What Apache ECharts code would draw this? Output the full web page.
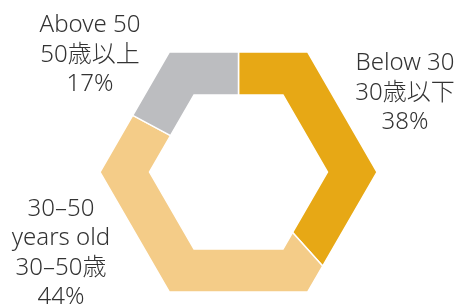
<!DOCTYPE html>
<html>
<head>
<meta charset="utf-8">
<script src="https://cdn.jsdelivr.net/npm/echarts@6/dist/echarts.min.js"></script>
<style>
  html, body { margin: 0; padding: 0; background: #fff; }
  #chart { width: 464px; height: 307px; }
</style>
</head>
<body>
<div id="chart"></div>
<script>
  // age groups, clockwise from the top
  const groupsEn = ['Below 30', '30–50\nyears old', 'Above 50']
  const groupsJa = ['30歳以下', '30–50歳', '50歳以上']
  const shares = [38, 44, 17]
  const colors = ['#E7A815', '#F4CC88', '#BCBDC0']

  const cx = 238.5, cy = 172
  const outerR = 138.5, innerR = 89
  const toRad = Math.PI / 180

  // point on a flat-topped hexagon, phi in degrees clockwise from up
  function hexPoint(phi, rad) {
    const n = Math.round(phi / 60) * 60
    const d = rad * Math.cos(30 * toRad) / Math.cos((phi - n) * toRad)
    return [cx + d * Math.sin(phi * toRad), cy - d * Math.cos(phi * toRad)]
  }

  const total = shares.reduce((a, b) => a + b, 0)

  function renderItem(params, api) {
    const i = params.dataIndex
    let before = 0
    for (let k = 0; k < i; k++) before += shares[k]
    const a0 = before / total * 360
    const a1 = (before + api.value(0)) / total * 360
    const angles = [a0]
    for (let v = 30; v < 360; v += 60) {
      if (v > a0 && v < a1) angles.push(v)
    }
    angles.push(a1)
    const pts = angles.map(a => hexPoint(a, outerR))
    for (let k = angles.length - 1; k >= 0; k--) pts.push(hexPoint(angles[k], innerR))
    return {
      type: 'polygon',
      shape: { points: pts },
      style: { fill: colors[i], stroke: '#fff', lineWidth: 1.5 }
    }
  }

  const textStyle = {
    fontFamily: 'Noto Sans, Noto Sans CJK JP, sans-serif',
    fontSize: 24,
    fontWeight: 300,
    lineHeight: 29.5,
    fill: '#333',
    align: 'center',
    verticalAlign: 'middle'
  }
  function label(i) {
    return groupsEn[i] + '\n' + groupsJa[i] + '\n' + shares[i] + '%'
  }

  const chart = echarts.init(document.getElementById('chart'), null, { renderer: 'canvas' })
  chart.setOption({
    animation: false,
    series: [{
      type: 'custom',
      coordinateSystem: 'none',
      renderItem: renderItem,
      data: shares.map(v => [v])
    }],
    graphic: [
      { type: 'text', x: 405, y: 93, style: Object.assign({ text: label(0) }, textStyle) },
      { type: 'text', x: 61, y: 253, style: Object.assign({ text: label(1) }, textStyle) },
      { type: 'text', x: 90, y: 55, style: Object.assign({ text: label(2) }, textStyle) }
    ]
  })
</script>
</body>
</html>
